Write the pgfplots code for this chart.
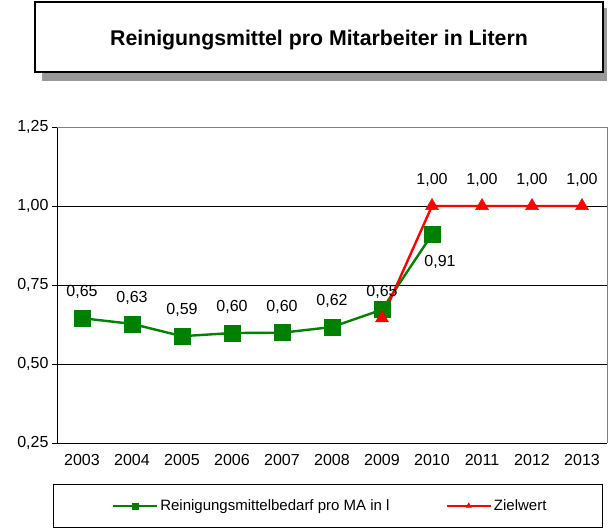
\documentclass[border=0pt]{standalone}
\usepackage{fontspec}
\setmainfont{Liberation Sans}
\usepackage{pgfplots}
\pgfplotsset{compat=1.18}
\definecolor{grn}{RGB}{0,128,0}
\definecolor{rd}{RGB}{255,0,0}
\definecolor{shadowgray}{RGB}{153,153,153}
\newcommand{\tickfont}{\fontsize{16bp}{19bp}\selectfont}
\begin{document}
\begin{tikzpicture}
\useasboundingbox (0,0) rectangle (608bp,528bp);
% title box
\fill[shadowgray] (42bp,447bp) rectangle (607bp,520bp);
\draw[line width=1.6bp, fill=white] (35bp,456bp) rectangle (603bp,526bp);
\node[font=\fontsize{21.3bp}{25bp}\selectfont\bfseries] at (319bp,488bp) {Reinigungsmittel pro Mitarbeiter in Litern};
% legend box
\draw[line width=0.9bp] (53bp,1bp) rectangle (602bp,44bp);
\begin{axis}[
  at={(57bp,85bp)}, anchor=south west,
  scale only axis, width=550bp, height=316bp,
  xmin=-0.5, xmax=10.5, ymin=0.25, ymax=1.25,
  axis x line*=bottom, axis y line*=left,
  axis line style={black, line width=0.9bp},
  xtick={0,...,10},
  xticklabels={2003,2004,2005,2006,2007,2008,2009,2010,2011,2012,2013},
  x tick style={draw=none},
  extra x ticks={-0.5,0.5,1.5,2.5,3.5,4.5,5.5,6.5,7.5,8.5,9.5,10.5},
  extra x tick labels={},
  extra x tick style={grid=none, tick style={draw=black, line width=0.9bp}, major tick length=5bp, tick align=outside},
  ytick={0.25,0.5,0.75,1.0,1.25},
  y tick style={black, line width=0.9bp}, major tick length=5bp, tick align=outside,
  ymajorgrids, major grid style={black, line width=0.9bp},
  tick label style={font=\tickfont},
  xticklabel style={yshift=-3bp},
  yticklabel style={/pgf/number format/.cd, fixed, fixed zerofill, precision=2, use comma, assume math mode=true},
  legend columns=2,
  legend style={draw=none, fill=none, at={(axis description cs:0.094,-0.199)}, anchor=west,
    font=\fontsize{15bp}{18bp}\selectfont,
    /tikz/every even column/.append style={column sep=54bp}},
  legend image code/.code={
    \draw[mark repeat=2,mark phase=2,#1, mark size=3bp] plot coordinates {(0bp,0bp) (22bp,0bp) (44bp,0bp)};
  },
  clip=false,
]
\draw[gray, line width=0.9bp] (rel axis cs:0,1) -- (rel axis cs:1,1) -- (rel axis cs:1,0);
\addplot[grn, line width=2.4bp, mark=square*, mark size=8bp, mark options={fill=grn, draw=grn, line width=0.5bp}]
  coordinates {(0,0.645) (1,0.627) (2,0.588) (3,0.598) (4,0.599) (5,0.617) (6,0.672) (7,0.910)};
\addlegendentry{Reinigungsmittelbedarf pro MA in l}
\addplot[rd, line width=2.4bp, mark=triangle*, mark size=7.5bp, mark options={fill=rd, draw=rd, line width=0.5bp}]
  coordinates {(6,0.645) (7,1.0) (8,1.0) (9,1.0) (10,1.0)};
\addlegendentry{Zielwert}
% data labels
\addplot[draw=none, forget plot, point meta=explicit symbolic, nodes near coords,
  every node near coord/.append style={font=\tickfont, anchor=center, yshift=26bp}]
  table[meta=l] {
x y l
0 0.645 0,65
1 0.627 0,63
2 0.588 0,59
3 0.598 0,60
4 0.599 0,60
5 0.617 0,62
};
\addplot[draw=none, forget plot, point meta=explicit symbolic, nodes near coords,
  every node near coord/.append style={font=\tickfont, anchor=center, yshift=26bp}]
  table[meta=l] {
x y l
6 0.645 0,65
7 1.0 1,00
8 1.0 1,00
9 1.0 1,00
10 1.0 1,00
};
\addplot[draw=none, forget plot, point meta=explicit symbolic, nodes near coords,
  every node near coord/.append style={font=\tickfont, anchor=center, yshift=-27bp, xshift=8bp}]
  table[meta=l] {
x y l
7 0.910 0,91
};
\end{axis}
\end{tikzpicture}
\end{document}
